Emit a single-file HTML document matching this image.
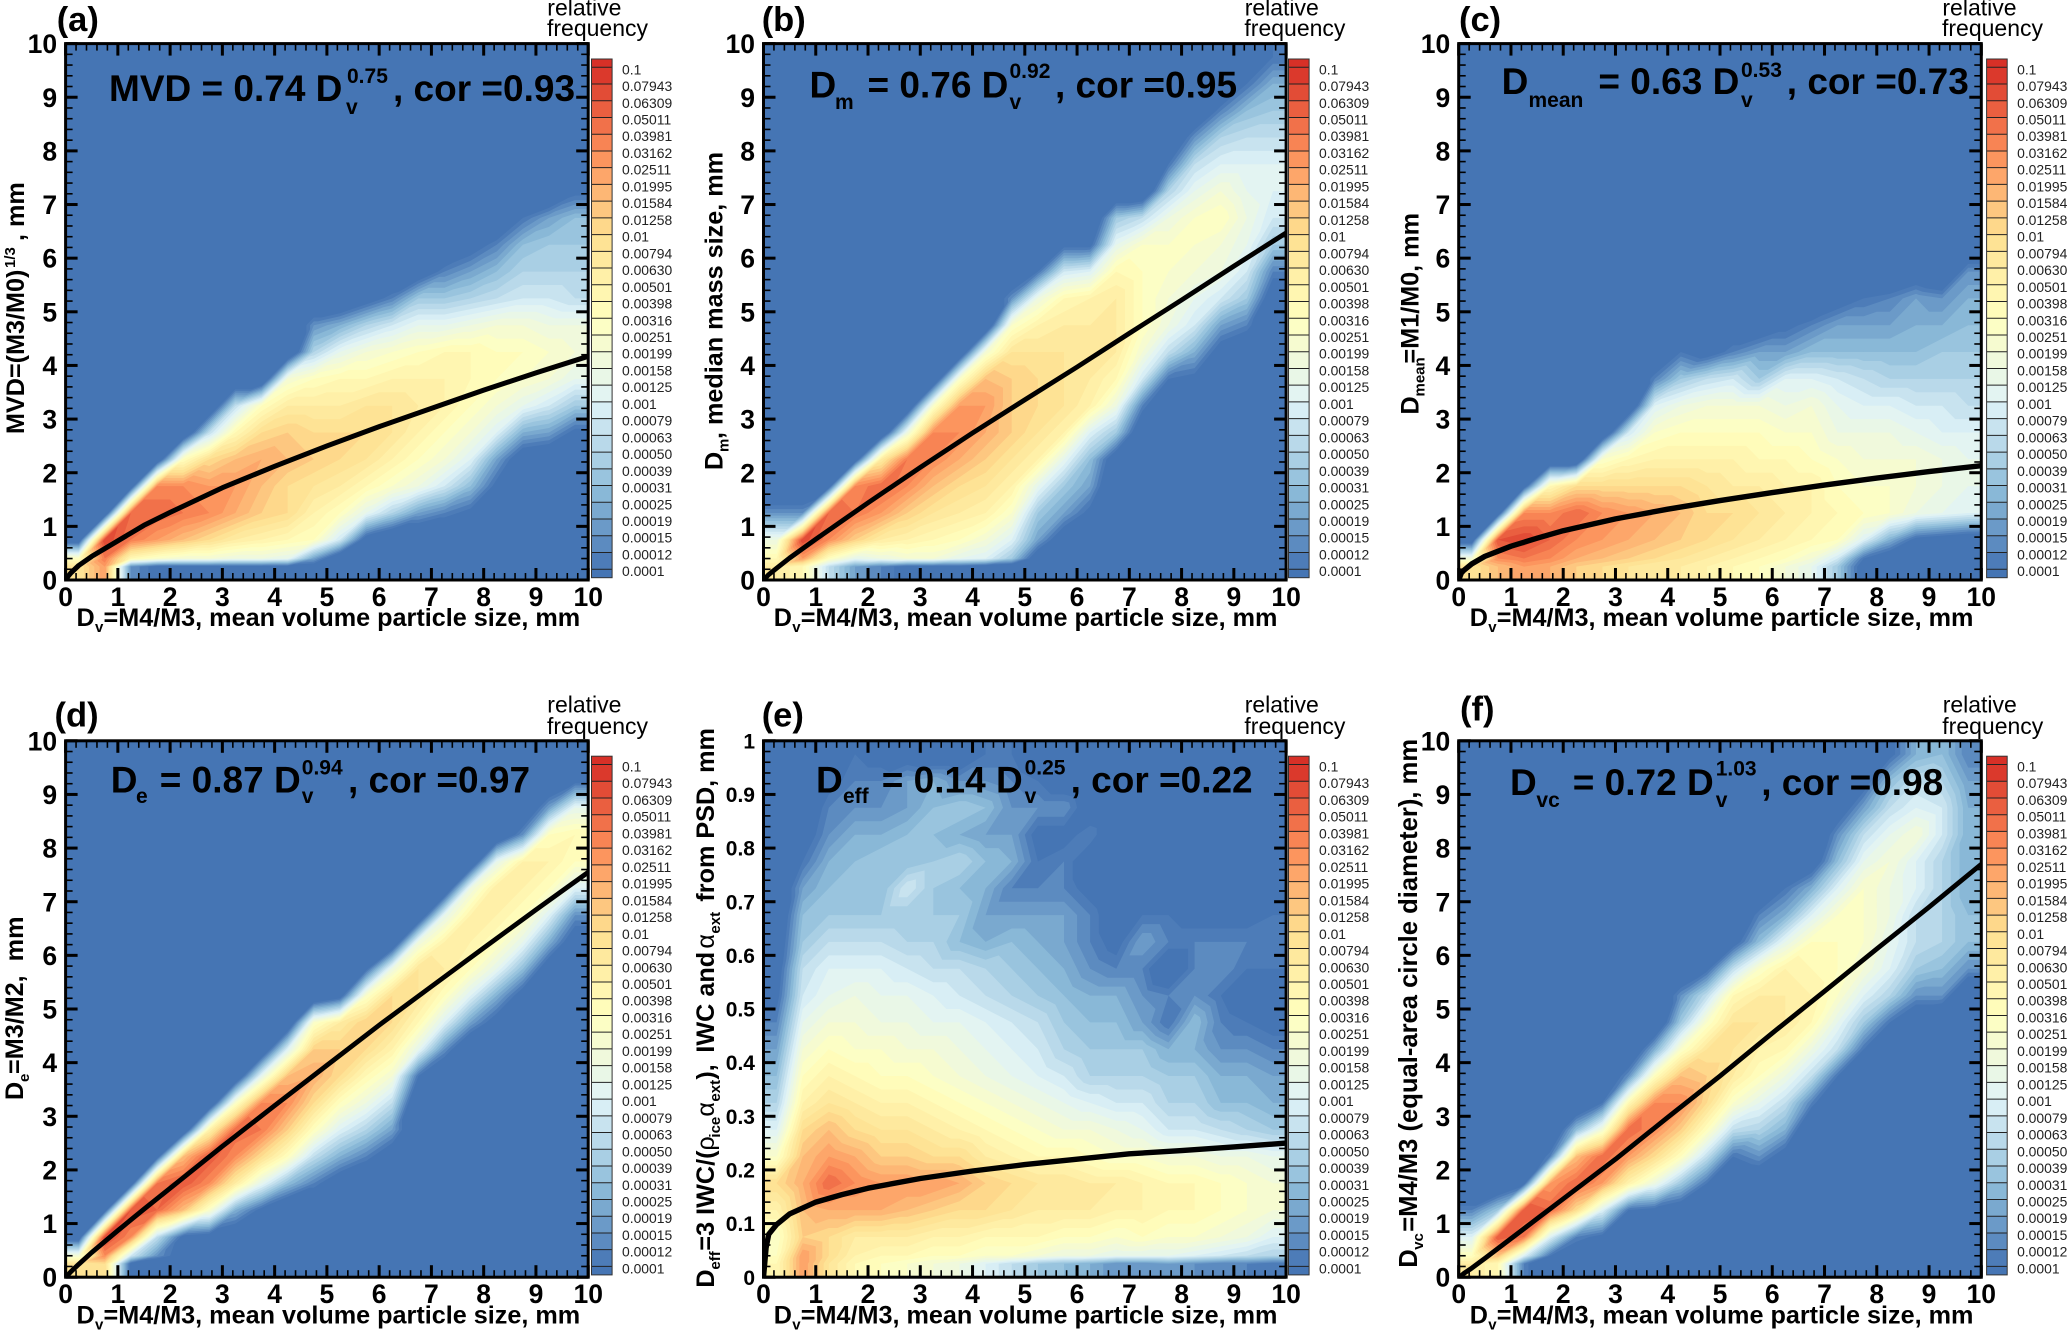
<!DOCTYPE html>
<html lang="en">
<head>
<meta charset="utf-8">
<title>Particle size relationships</title>
<style>
html,body{margin:0;padding:0;background:#fff;}
svg{display:block;}
text{font-family:"Liberation Sans",sans-serif;fill:#000;}
.b{font-weight:bold;}
.eq{font-weight:bold;font-size:37px;}
.ax{font-weight:bold;font-size:25.2px;}
.let{font-weight:bold;font-size:34.5px;}
.rf{font-size:23px;}
</style>
</head>
<body>
<svg id="figure" xmlns="http://www.w3.org/2000/svg" width="2067" height="1331" viewBox="0 0 2067 1331">
<rect width="2067" height="1331" fill="#fff"/>

<g id="panel-a">
<g id="marks-a"></g>
<text class="let" x="56.7" y="31">(a)</text>
<text class="rf"><tspan x="547.3" y="15.4">relative</tspan><tspan x="547" y="36">frequency</tspan></text>
<text class="eq"><tspan x="109" y="101">MVD = 0.74 D</tspan><tspan x="347" y="83" font-size="21">0.75</tspan><tspan x="346" y="114" font-size="21">v</tspan><tspan x="393" y="101">, cor =0.93</tspan></text>
<text class="ax"><tspan x="76.5" y="626">D</tspan><tspan x="95" y="632" font-size="15">v</tspan><tspan x="103.5" y="626">=M4/M3, mean volume particle size, mm</tspan></text>
<text class="ax" transform="translate(24 434) rotate(-90)"><tspan x="0" y="0">MVD=(M3/M0)</tspan><tspan x="166" y="-9" font-size="15">1/3</tspan><tspan x="186" y="0"> , mm</tspan></text>
</g>

<g id="panel-b">
<g id="marks-b"></g>
<text class="let" x="761.7" y="31">(b)</text>
<text class="rf"><tspan x="1244.7" y="15.4">relative</tspan><tspan x="1244.4" y="36">frequency</tspan></text>
<text class="eq"><tspan x="809.5" y="97.4">D</tspan><tspan x="835" y="109" font-size="21">m</tspan><tspan x="867.5" y="97.4">= 0.76 D</tspan><tspan x="1009.5" y="78" font-size="21">0.92</tspan><tspan x="1009.5" y="109" font-size="21">v</tspan><tspan x="1055" y="97.4">, cor =0.95</tspan></text>
<text class="ax"><tspan x="773.8" y="626">D</tspan><tspan x="792.3" y="632" font-size="15">v</tspan><tspan x="800.8" y="626">=M4/M3, mean volume particle size, mm</tspan></text>
<text class="ax" transform="translate(722.4 470) rotate(-90)"><tspan x="0" y="0">D</tspan><tspan x="18" y="6" font-size="15">m</tspan><tspan x="31" y="0">, median mass size, mm</tspan></text>
</g>

<g id="panel-c">
<g id="marks-c"></g>
<text class="let" x="1459" y="31">(c)</text>
<text class="rf"><tspan x="1942.4" y="15.4">relative</tspan><tspan x="1942" y="36">frequency</tspan></text>
<text class="eq"><tspan x="1501.6" y="94">D</tspan><tspan x="1528.5" y="106.8" font-size="21">mean</tspan><tspan x="1598.4" y="94">= 0.63 D</tspan><tspan x="1741" y="77" font-size="21">0.53</tspan><tspan x="1741" y="106.8" font-size="21">v</tspan><tspan x="1786.8" y="94">, cor =0.73</tspan></text>
<text class="ax"><tspan x="1469.8" y="626">D</tspan><tspan x="1488.3" y="632" font-size="15">v</tspan><tspan x="1496.8" y="626">=M4/M3, mean volume particle size, mm</tspan></text>
<text class="ax" transform="translate(1418.4 414.5) rotate(-90)"><tspan x="0" y="0">D</tspan><tspan x="18" y="6" font-size="15">mean</tspan><tspan x="51" y="0">=M1/M0, mm</tspan></text>
</g>

<g id="panel-d">
<g id="marks-d"></g>
<text class="let" x="54.5" y="726.5">(d)</text>
<text class="rf"><tspan x="547.3" y="712.6">relative</tspan><tspan x="547" y="734">frequency</tspan></text>
<text class="eq"><tspan x="110.7" y="792.3">D</tspan><tspan x="136" y="802.8" font-size="21">e</tspan><tspan x="159.8" y="792.3">= 0.87 D</tspan><tspan x="301.8" y="774.5" font-size="21">0.94</tspan><tspan x="301.8" y="802.8" font-size="21">v</tspan><tspan x="348" y="792.3">, cor =0.97</tspan></text>
<text class="ax"><tspan x="76.5" y="1323.5">D</tspan><tspan x="95" y="1329.5" font-size="15">v</tspan><tspan x="103.5" y="1323.5">=M4/M3, mean volume particle size, mm</tspan></text>
<text class="ax" transform="translate(23.2 1100) rotate(-90)"><tspan x="0" y="0">D</tspan><tspan x="18" y="6" font-size="15">e</tspan><tspan x="26" y="0" xml:space="preserve">=M3/M2,  mm</tspan></text>
</g>

<g id="panel-e">
<g id="marks-e"></g>
<text class="let" x="761.7" y="726.5">(e)</text>
<text class="rf"><tspan x="1244.7" y="712.6">relative</tspan><tspan x="1244.4" y="734">frequency</tspan></text>
<text class="eq"><tspan x="816" y="792.3">D</tspan><tspan x="843" y="802.8" font-size="21">eff</tspan><tspan x="881.8" y="792.3">= 0.14 D</tspan><tspan x="1024.6" y="774.5" font-size="21">0.25</tspan><tspan x="1024.6" y="802.8" font-size="21">v</tspan><tspan x="1070.6" y="792.3">, cor =0.22</tspan></text>
<text class="ax"><tspan x="773.8" y="1323.5">D</tspan><tspan x="792.3" y="1329.5" font-size="15">v</tspan><tspan x="800.8" y="1323.5">=M4/M3, mean volume particle size, mm</tspan></text>
<text class="ax" transform="translate(714 1287.6) rotate(-90)"><tspan x="0" y="0">D</tspan><tspan x="18" y="6" font-size="15">eff</tspan><tspan x="37" y="0">=3 IWC/(</tspan><tspan x="137" y="0" font-weight="normal">ρ</tspan><tspan x="150" y="6" font-size="15">ice</tspan><tspan x="171" y="0" font-weight="normal">α</tspan><tspan x="186" y="6" font-size="15">ext</tspan><tspan x="208" y="0">),</tspan><tspan x="235" y="0">IWC and</tspan><tspan x="339" y="0" font-weight="normal">α</tspan><tspan x="354" y="6" font-size="15">ext</tspan><tspan x="386" y="0">from PSD, mm</tspan></text>
</g>

<g id="panel-f">
<g id="marks-f"></g>
<text class="let" x="1460" y="720.6">(f)</text>
<text class="rf"><tspan x="1942.7" y="712.6">relative</tspan><tspan x="1942.3" y="734">frequency</tspan></text>
<text class="eq"><tspan x="1510" y="795.2">D</tspan><tspan x="1536.4" y="807" font-size="21">vc</tspan><tspan x="1572.8" y="795.2">= 0.72 D</tspan><tspan x="1715.7" y="775.4" font-size="21">1.03</tspan><tspan x="1715.7" y="807" font-size="21">v</tspan><tspan x="1761.2" y="795.2">, cor =0.98</tspan></text>
<text class="ax"><tspan x="1469.8" y="1323.5">D</tspan><tspan x="1488.3" y="1329.5" font-size="15">v</tspan><tspan x="1496.8" y="1323.5">=M4/M3, mean volume particle size, mm</tspan></text>
<text class="ax" style="font-size:25.6px" transform="translate(1417 1267.8) rotate(-90)"><tspan x="0" y="0">D</tspan><tspan x="18" y="6" font-size="15">vc</tspan><tspan x="36" y="0">=M4/M3 (equal-area circle diameter), mm</tspan></text>
</g>
</svg>

<script>
// ---- shared categories and tick labels ----
const dvBins = [0.25,0.75,1.25,1.75,2.25,2.75,3.25,3.75,4.25,4.75,5.25,5.75,6.25,6.75,7.25,7.75,8.25,8.75,9.25,9.75];
const sizeBins = [0.25,0.4,0.75,1.25,1.75,2.25,2.75,3.25,3.75,4.25,4.75,5.25,5.75,6.25,6.75,7.25,7.75,8.25,8.75,9.25,9.75];
const xTickLabels = ['0','1','2','3','4','5','6','7','8','9','10'];
const yTickLabels = ['0','1','2','3','4','5','6','7','8','9','10'];
const yTickLabelsE = ['0','0.1','0.2','0.3','0.4','0.5','0.6','0.7','0.8','0.9','1'];
const frequencyLabels = ['0.1','0.07943','0.06309','0.05011','0.03981','0.03162','0.02511','0.01995','0.01584','0.01258','0.01','0.00794','0.00630','0.00501','0.00398','0.00316','0.00251','0.00199','0.00158','0.00125','0.001','0.00079','0.00063','0.00050','0.00039','0.00031','0.00025','0.00019','0.00015','0.00012','0.0001'];
const curveDv = [0,0.05,0.1,0.25,0.5,1,1.5,2,3,4,5,6,7,8,9,10];

// ---- fitted curves ----
const curveA = [0,0.07,0.13,0.27,0.44,0.73,1.02,1.26,1.72,2.12,2.5,2.86,3.2,3.54,3.86,4.17];
const curveB = [0,0.05,0.1,0.22,0.41,0.76,1.1,1.44,2.1,2.74,3.36,3.97,4.6,5.22,5.85,6.47];
const curveC = [0,0.13,0.18,0.3,0.44,0.63,0.78,0.92,1.14,1.32,1.48,1.63,1.77,1.9,2.02,2.13];
const curveD = [0,0.05,0.1,0.24,0.46,0.87,1.27,1.66,2.44,3.2,3.95,4.7,5.42,6.14,6.85,7.55];
const curveE = [0,0.055,0.08,0.098,0.118,0.14,0.154,0.166,0.184,0.198,0.21,0.22,0.23,0.236,0.243,0.25];
const curveF = [0,0.03,0.07,0.17,0.35,0.72,1.09,1.46,2.2,2.98,3.75,4.55,5.33,6.12,6.9,7.7];

// ---- relative frequency per bin, in colour-scale steps (0 = 0.0001, 30 = 0.1);
//      one array per Dv bin, listed upward over the size bins from 0.25 (then 0.75, 1.25 ...);
//      omitted bins are empty ----
const freqA = [
[19,-3],
[24,29,-4],
[2,26,27,-3],
[-1,24,27,25,-4],
[-1,22,26,25,15],
[-1,20,25,24,20,8],
[-1,18,23,24,22,16,8],
[-1,17,21,22,23,20,15],
[-1,16,20,20,22,21,18,13],
[-2,15,17,19,21,20,18,15,7,2],
[-5,9,15,18,20,20,18,16,11,4],
[-5,-2,11,16,19,20,19,16,13,7,-2],
[-5,-5,7,14,17,19,19,17,14,9,1],
[-5,-5,3,12,15,17,18,17,15,11,6,-3],
[-5,-5,1,9,13,15,17,17,16,11,6,1],
[-5,-5,-1,5,10,13,15,16,16,12,7,3,-2],
[-5,-5,-5,-1,3,10,13,15,15,13,8,5,1],
[-5,-5,-5,-5,-3,4,11,14,15,13,9,7,5,0],
[-5,-5,-5,-5,-4,3,9,13,14,12,9,7,6,3],
[-5,-5,-5,-5,-5,-1,6,11,13,12,8,7,6,5,-1]
];
// size bin 0.4, one value per Dv bin (the lower edge of the cloud is sharp here)
const lowRowA = [15,26,16,14,13,13,12,12,11,3,-4,-5,-5,-5,-5,-5,-5,-5,-5,-5];
const freqB = [
[18,12,2],
[16,29,2],
[8,25,27,-2],
[3,21,26,25,-3],
[1,18,24,27,18],
[-1,17,21,25,26,12],
[-1,16,19,22,25,25,14],
[-1,15,18,20,23,25,24,14],
[-2,13,17,19,21,23,24,22,13],
[-3,10,14,17,19,21,21,21,19,14,2],
[-5,3,6,11,17,19,20,20,19,17,12,0],
[-5,-3,3,6,11,17,19,19,19,18,16,9,-1],
[-5,-5,-1,3,5,10,17,18,18,18,17,10,-1],
[-5,-5,-5,-5,-3,6,12,16,18,18,18,16,11,6],
[-5,-5,-5,-5,-5,-4,1,9,13,15,15,15,14,8],
[-5,-5,-5,-5,-5,-5,-5,0,8,12,13,14,14,12,7,0],
[-5,-5,-5,-5,-5,-5,-5,-1,4,9,11,13,14,14,11,8,2],
[-5,-5,-5,-5,-5,-5,-5,-5,-2,3,9,12,13,15,13,10,7,1],
[-5,-5,-5,-5,-5,-5,-5,-5,-4,1,6,9,11,12,11,10,8,5,0],
[-5,-5,-5,-5,-5,-5,-5,-5,-5,-5,-3,1,6,9,10,10,8,6,4,0]
];
const lowRowB = [16,24,15,11,12,13,13,11,10,6,-3,-5,-5,-5,-5,-5,-5,-5,-5,-5];
const freqC = [
[19,-3],
[22,28,-3],
[24,29,25,-2],
[23,27,25,16],
[21,25,27,20],
[20,24,25,20,14],
[19,23,24,20,16,9],
[18,22,23,20,17,14,10,1],
[18,21,22,20,17,15,12,6,0],
[17,20,20,19,17,15,13,8,-2,0],
[16,19,20,18,17,15,13,9,1,-3],
[15,18,19,18,16,15,13,6,3,-3],
[13,17,18,17,16,14,12,10,3,-1],
[11,16,17,17,15,14,13,10,5,1],
[6,15,16,15,14,12,11,9,5,3,-2],
[-2,10,15,14,13,12,10,8,5,3,0],
[-5,4,14,14,13,12,10,7,5,3,1],
[-5,-1,12,13,13,11,9,7,5,4,3,-3],
[-5,-2,11,12,12,10,9,7,6,4,2],
[-5,-3,10,11,11,10,8,7,6,5,4,2]
];
const lowRowC = [13,25,26,25,23,22,21,20,19,18,17,16,15,13,9,0,-3,-4,-4,-4];
const freqD = [
[19,-3],
[20,29,-2],
[-1,25,28,-3],
[-4,8,27,26,-2],
[-5,-1,22,28,22],
[-5,-2,14,25,28,17],
[-5,-4,4,18,25,27,14],
[-5,-5,-1,11,20,26,25,11],
[-5,-5,-5,5,15,21,25,22,10],
[-5,-5,-5,1,8,15,20,23,21,14],
[-5,-5,-5,-3,4,10,15,20,21,18,-2],
[-5,-5,-5,-5,1,7,12,16,20,21,14,-1],
[-5,-5,-5,-5,-3,3,8,13,17,20,20,12],
[-5,-5,-5,-5,-5,-5,-5,0,11,16,19,19,12],
[-5,-5,-5,-5,-5,-5,-5,-5,2,10,15,18,17,11],
[-5,-5,-5,-5,-5,-5,-5,-5,-5,3,10,15,17,17,12],
[-5,-5,-5,-5,-5,-5,-5,-5,-5,-2,4,11,15,17,18,11],
[-5,-5,-5,-5,-5,-5,-5,-5,-5,-5,-2,5,11,15,17,17,2],
[-5,-5,-5,-5,-5,-5,-5,-5,-5,-5,-5,-3,4,10,15,17,15,3],
[-5,-5,-5,-5,-5,-5,-5,-5,-5,-5,-5,-5,-3,2,10,15,16,11,-1]
];
const lowRowD = [13,25,9,2,-2,-3,-5,-5,-5,-5,-5,-5,-5,-5,-5,-5,-5,-5,-5,-5];
const freqE = [
[16,14,17,20,14,10,7,5,3,1,-1,-2,-3,-4,-4,-4,-4,-4,-4,-4],
[24,21,22,23,22,20,17,15,13,11,9,8,6,5,3,0,-2,-3,-4,-4],
[19,20,23,27,24,22,19,17,15,13,11,10,8,6,5,4,2,1,-1,-2],
[16,18,23,25,23,20,18,16,14,13,12,10,8,6,5,5,4,2,1,0],
[15,18,23,24,21,19,17,15,14,12,11,10,8,6,5,6,4,2,1,-1],
[14,18,22,24,21,19,17,15,13,12,11,9,7,6,9,5,5,3,3,-2],
[13,17,21,24,20,18,16,14,13,11,10,8,7,6,6,6,5,5,4,-3],
[12,17,20,23,20,17,15,13,12,11,9,8,5,6,5,7,4,6,2,-3],
[10,16,20,21,18,16,14,12,11,10,8,7,4,3,4,5,3,5,2,0],
[8,16,19,20,17,15,13,11,10,9,7,6,5,3,1,4,3,2,1,0],
[6,16,18,19,16,14,12,10,9,8,6,5,4,3,1,0,-1,2,0,-2],
[5,15,18,19,16,13,11,9,7,6,5,4,3,3,1,1,-1,2,-2,-3],
[4,15,18,18,15,13,10,7,6,5,4,2,1,1,-1,-2,1,-2,-3,-3],
[2,14,17,18,14,12,9,7,6,5,4,1,-1,-2,-3,-1,-3,-3,-3,-3],
[2,15,17,17,14,11,9,7,6,3,2,1,3,0,-1,-2,-3,-3,-3,-3],
[3,14,16,16,13,9,7,6,4,0,1,-3,1,0,-2,-3,-3,-3,-3,-3],
[2,14,16,16,13,9,7,6,4,5,2,1,1,-1,-2,-3,-3,-3,-3,-3],
[1,13,15,15,12,8,5,4,2,1,0,2,1,-1,-3,-3,-3,-3,-3,-3],
[1,12,14,14,12,7,5,4,2,0,-2,0,1,-1,-3,-3,-3,-3,-3,-3],
[0,10,13,13,11,6,4,3,1,-1,-2,0,1,0,-3,-3,-3,-3,-3,-3]
];
const lowRowE = [15,24,20,17,16,16,15,15,14,14,13,12,12,11,11,11,10,9,8,7];
const freqF = [
[18,10,1],
[16,28,6],
[1,26,28,-1],
[-5,10,27,24,1],
[-5,1,20,27,22,5],
[-5,-1,10,24,27,13,0],
[-5,-5,0,17,24,27,16,2],
[-5,-5,-1,12,20,25,25,15,4],
[-5,-5,-3,6,15,21,25,22,14,6,2],
[-5,-5,-5,0,8,15,20,21,19,14,8,-1],
[-5,-5,-5,-5,0,8,14,18,19,19,16,8,-2],
[-5,-5,-5,-4,2,7,11,15,17,19,18,14,5,1],
[-5,-5,-5,-5,-2,4,8,12,16,18,18,17,11,4,0],
[-5,-5,-5,-5,-5,-5,1,8,12,16,17,16,15,10,4,-3],
[-5,-5,-5,-5,-5,-5,-5,0,8,11,14,15,15,14,10,5,2,-3],
[-5,-5,-5,-5,-5,-5,-5,-5,0,6,10,13,14,14,14,11,8,3,-2],
[-5,-5,-5,-5,-5,-5,-5,-5,-5,0,7,10,11,12,12,13,11,8,5,-1],
[-5,-5,-5,-5,-5,-5,-5,-5,-5,-4,2,6,8,8,10,10,13,10,8,4],
[-5,-5,-5,-5,-5,-5,-5,-5,-5,-5,2,5,7,7,7,7,9,9,7,5],
[-5,-5,-5,-5,-5,-5,-5,-5,-5,-5,-5,2,5,5,4,4,4,4,3,1]
];
const lowRowF = [15,22,10,0,-3,-4,-5,-5,-5,-5,-5,-5,-5,-5,-5,-5,-5,-5,-5,-5];

// ---- colour scale anchors (every 5 steps from 0.0001 to 0.1) ----
const scaleColors = ['#4575b4','#91bfdb','#e0f3f8','#ffffbf','#fee090','#fc8d59','#d73027'];

const SVGNS = 'http://www.w3.org/2000/svg';
function svgEl(tag, attrs, parent) {
  const el = document.createElementNS(SVGNS, tag);
  for (const k in attrs) el.setAttribute(k, attrs[k]);
  parent.appendChild(el);
  return el;
}
function hexRgb(h) {
  return [parseInt(h.slice(1,3),16), parseInt(h.slice(3,5),16), parseInt(h.slice(5,7),16)];
}
function stepColor(s) {
  const t = Math.max(0, Math.min(30, s)) / 5;
  const i = Math.min(5, Math.floor(t));
  const a = hexRgb(scaleColors[i]);
  const b = hexRgb(scaleColors[i + 1]);
  const f = t - i;
  return 'rgb(' + a.map((v, n) => Math.round(v + (b[n] - v) * f)).join(',') + ')';
}

function clipAbove(tri, level) {
  const out = [];
  for (let i = 0; i < 3; i++) {
    const p = tri[i];
    const q = tri[(i + 1) % 3];
    if (p[2] >= level) out.push(p);
    if ((p[2] >= level) !== (q[2] >= level)) {
      const t = (level - p[2]) / (q[2] - p[2]);
      out.push([p[0] + (q[0] - p[0]) * t, p[1] + (q[1] - p[1]) * t, level]);
    }
  }
  return out;
}

function drawPanel(cfg) {
  const root = document.getElementById('marks-' + cfg.id);
  const W = 522.6;
  const H = 536.4;
  const sx = v => cfg.x0 + v / 10 * W;
  const sy = v => cfg.y0 + H - v / cfg.yMax * H;
  const ns = cfg.id;

  // plot background
  const clipId = 'clip-' + ns;
  const defs = svgEl('defs', {}, root);
  const cp = svgEl('clipPath', {id: clipId}, defs);
  svgEl('rect', {x: cfg.x0, y: cfg.y0, width: W, height: H}, cp);
  const bg = svgEl('rect', {x: cfg.x0, y: cfg.y0, width: W, height: H, fill: scaleColors[0]}, root);
  
  

  // filled contours from the binned frequencies
  const nodesX = [0].concat(dvBins, [10]);
  const nodesY = [0].concat(sizeBins, [10]);
  const valueAt = (i, j) => {
    const c = Math.max(0, Math.min(dvBins.length - 1, i - 1));
    const r = Math.max(0, Math.min(sizeBins.length - 1, j - 1));
    if (r === 1) return cfg.lowRow[c];
    const idx = r === 0 ? 0 : r - 1;
    const col = cfg.freq[c];
    return idx < col.length ? col[idx] : -5;
  };
  const pt = (i, j) => [sx(nodesX[i]), sy(nodesY[j] / 10 * cfg.yMax), valueAt(i, j)];
  const tris = [];
  for (let i = 0; i < nodesX.length - 1; i++) {
    for (let j = 0; j < nodesY.length - 1; j++) {
      const a = pt(i, j), b = pt(i + 1, j), c = pt(i + 1, j + 1), d = pt(i, j + 1);
      tris.push([a, b, c]);
      tris.push([a, c, d]);
    }
  }
  const field = svgEl('g', {'clip-path': 'url(#' + clipId + ')'}, root);
  
  
  for (let level = 0; level < 31; level++) {
    let d = '';
    for (const tri of tris) {
      if (tri[0][2] < level && tri[1][2] < level && tri[2][2] < level) continue;
      const poly = clipAbove(tri, level);
      if (poly.length < 3) continue;
      d += 'M' + poly.map(p => p[0].toFixed(1) + ' ' + p[1].toFixed(1)).join('L') + 'Z';
    }
    if (!d) continue;
    const band = svgEl('path', {d: d, fill: stepColor(Math.min(30, level + 0.5))}, field);
    
    
  }

  // fitted curve
  const linePts = curveDv.map((v, i) => sx(v).toFixed(1) + ',' + sy(cfg.curve[i]).toFixed(1)).join(' ');
  const line = svgEl('polyline', {points: linePts, fill: 'none', stroke: '#000', 'stroke-width': cfg.lineW, 'stroke-linejoin': 'round', 'clip-path': 'url(#' + clipId + ')'}, root);
  
  

  // ticks on all four sides
  const ticks = svgEl('g', {stroke: '#000'}, root);
  
  
  for (let n = 0; n <= 50; n++) {
    const major = n % 5 === 0;
    const len = major ? 12 : 7;
    const sw = major ? 3 : 1.6;
    const px = sx(n / 5);
    const py = cfg.y0 + H - n / 50 * H;
    svgEl('line', {x1: px, x2: px, y1: cfg.y0 + H, y2: cfg.y0 + H - len, 'stroke-width': sw}, ticks);
    svgEl('line', {x1: px, x2: px, y1: cfg.y0, y2: cfg.y0 + len, 'stroke-width': sw}, ticks);
    svgEl('line', {x1: cfg.x0, x2: cfg.x0 + len, y1: py, y2: py, 'stroke-width': sw}, ticks);
    svgEl('line', {x1: cfg.x0 + W, x2: cfg.x0 + W - len, y1: py, y2: py, 'stroke-width': sw}, ticks);
  }

  // frame
  const frame = svgEl('rect', {x: cfg.x0, y: cfg.y0, width: W, height: H, fill: 'none', stroke: '#000', 'stroke-width': 3}, root);
  
  

  // tick labels
  xTickLabels.forEach(label => {
    const t = svgEl('text', {x: sx(Number(label)), y: cfg.y0 + H + 26, 'text-anchor': 'middle', 'font-weight': 'bold', 'font-size': 26.5}, root);
    
    
    t.textContent = label;
  });
  cfg.yLabels.forEach(label => {
    const fs = cfg.yLabelSize;
    const t = svgEl('text', {x: cfg.x0 - 8.5, y: sy(Number(label)) + fs * 0.36, 'text-anchor': 'end', 'font-weight': 'bold', 'font-size': fs}, root);
    
    
    t.textContent = label;
  });

  // colour bar
  const bar = svgEl('g', {}, root);
  
  
  const barTop = cfg.y0 + 15.4;
  const barBottom = cfg.y0 + 534.1;
  const levelY = k => cfg.y0 + 23.7 + (30 - k) * 16.73;
  for (let k = -1; k <= 30; k++) {
    const top = k === 30 ? barTop : levelY(k + 1);
    const bottom = k === -1 ? barBottom : levelY(k);
    const cell = svgEl('rect', {x: cfg.barX, y: top, width: 20.6, height: bottom - top, fill: stepColor(k === 30 ? 30 : k === -1 ? 0 : k + 0.5)}, bar);
    
    
  }
  for (let k = 0; k <= 30; k++) {
    svgEl('line', {x1: cfg.barX, x2: cfg.barX + 20.6, y1: levelY(k), y2: levelY(k), stroke: '#222', 'stroke-width': 1}, bar);
  }
  svgEl('rect', {x: cfg.barX, y: barTop, width: 20.6, height: barBottom - barTop, fill: 'none', stroke: '#333', 'stroke-width': 1}, bar);
  frequencyLabels.forEach((label, i) => {
    const t = svgEl('text', {x: cfg.barX + 30.5, y: levelY(30 - i) + 7, 'font-size': 13.9, style: 'fill:#222'}, bar);
    
    
    t.textContent = label;
  });
}

drawPanel({id: 'a', x0: 65.6, y0: 43.6, yMax: 10, freq: freqA, lowRow: lowRowA, curve: curveA, barX: 591.5, yLabels: yTickLabels, yLabelSize: 26.5, lineW: 5});
drawPanel({id: 'b', x0: 763.5, y0: 43.6, yMax: 10, freq: freqB, lowRow: lowRowB, curve: curveB, barX: 1288.5, yLabels: yTickLabels, yLabelSize: 26.5, lineW: 4.8});
drawPanel({id: 'c', x0: 1458.7, y0: 43.6, yMax: 10, freq: freqC, lowRow: lowRowC, curve: curveC, barX: 1986.6, yLabels: yTickLabels, yLabelSize: 26.5, lineW: 5.4});
drawPanel({id: 'd', x0: 65.6, y0: 740.8, yMax: 10, freq: freqD, lowRow: lowRowD, curve: curveD, barX: 591.5, yLabels: yTickLabels, yLabelSize: 26.5, lineW: 4.8});
drawPanel({id: 'e', x0: 763.5, y0: 740.8, yMax: 1, freq: freqE, lowRow: lowRowE, curve: curveE, barX: 1288.5, yLabels: yTickLabelsE, yLabelSize: 21, lineW: 5.4});
drawPanel({id: 'f', x0: 1458.7, y0: 740.8, yMax: 10, freq: freqF, lowRow: lowRowF, curve: curveF, barX: 1986.6, yLabels: yTickLabels, yLabelSize: 26.5, lineW: 4.8});
</script>
</body>
</html>
